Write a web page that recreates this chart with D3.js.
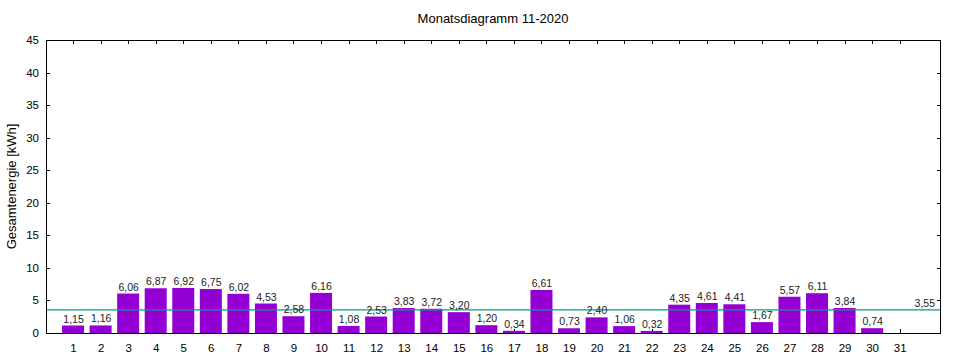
<!DOCTYPE html>
<html><head><meta charset="utf-8">
<script src="https://cdn.jsdelivr.net/npm/d3@7"></script>
<style>body{margin:0;background:#fff}svg{display:block;font-family:"Liberation Sans",Arial,sans-serif}</style>
</head><body><svg id="c" width="960" height="360"></svg>
<script>
const days = d3.range(1, 32);
const values = [1.15,1.16,6.06,6.87,6.92,6.75,6.02,4.53,2.58,6.16,1.08,2.53,3.83,3.72,3.20,1.20,0.34,6.61,0.73,2.40,1.06,0.32,4.35,4.61,4.41,1.67,5.57,6.11,3.84,0.74,null];
const yTicks = [0,5,10,15,20,25,30,35,40,45];
const average = 3.55;
const title = "Monatsdiagramm 11-2020";
const yLabel = "Gesamtenergie [kWh]";

const fmt = v => d3.format(".2f")(v).replace(".", ",");
const svg = d3.select("#c");
const L = 46, R = 941, T = 40, B = 333;
const x = d3.scaleLinear().domain([0, 32.5]).range([L - 0.5, R]);
const y = d3.scaleLinear().domain([0, 45]).range([B, T]);
const bw = 22;

// ticks (drawn under bars)
const tk = svg.append("g").attr("stroke", "#000").attr("stroke-width", 1);
days.forEach(d => {
  const xx = Math.round(x(d)) + 0.5;
  tk.append("line").attr("x1", xx).attr("x2", xx).attr("y1", B).attr("y2", B - 4);
  tk.append("line").attr("x1", xx).attr("x2", xx).attr("y1", T).attr("y2", T + 4);
});
yTicks.forEach(t => {
  const yy = Math.round(y(t)) + 0.5;
  tk.append("line").attr("x1", L).attr("x2", L + 4).attr("y1", yy).attr("y2", yy);
  tk.append("line").attr("x1", R).attr("x2", R - 4).attr("y1", yy).attr("y2", yy);
});

// bars
const data = days.map((d, i) => ({d, v: values[i]})).filter(o => o.v != null);
svg.append("g").selectAll("rect").data(data).join("rect")
  .attr("x", o => x(o.d) - bw / 2)
  .attr("width", bw)
  .attr("y", o => y(o.v))
  .attr("height", o => B - y(o.v))
  .attr("fill", "#9400d3");

// average line
svg.append("line").attr("x1", L).attr("x2", R)
  .attr("y1", y(average)).attr("y2", y(average))
  .attr("stroke", "#009e80").attr("stroke-width", 1.3);

// value labels
svg.append("g").selectAll("text").data(data).join("text")
  .attr("x", o => x(o.d) + 0.5)
  .attr("y", o => y(o.v) - 3)
  .attr("text-anchor", "middle")
  .attr("font-size", 10.5)
  .attr("fill", "#222")
  .text(o => fmt(o.v));

svg.append("text").attr("x", R - 6).attr("y", y(average) - 3)
  .attr("text-anchor", "end").attr("font-size", 10.5).attr("fill", "#222")
  .text(fmt(average));

// frame
svg.append("rect").attr("x", L + 0.5).attr("y", T + 0.5)
  .attr("width", R - L - 1).attr("height", B - T)
  .attr("fill", "none").attr("stroke", "#000").attr("stroke-width", 1);

// tick labels
svg.append("g").selectAll("text").data(days).join("text")
  .attr("x", d => x(d) + 0.5).attr("y", B + 19)
  .attr("text-anchor", "middle").attr("font-size", 11.5).text(d => d);
svg.append("g").selectAll("text").data(yTicks).join("text")
  .attr("x", 39).attr("y", t => y(t) + 4)
  .attr("text-anchor", "end").attr("font-size", 11.5).text(t => t);

// title and axis label
svg.append("text").attr("x", 493).attr("y", 23).attr("text-anchor", "middle")
  .attr("font-size", 13).text(title);
svg.append("text").attr("transform", `translate(16,${(T + B) / 2}) rotate(-90)`)
  .attr("text-anchor", "middle").attr("font-size", 13).text(yLabel);
</script></body></html>
